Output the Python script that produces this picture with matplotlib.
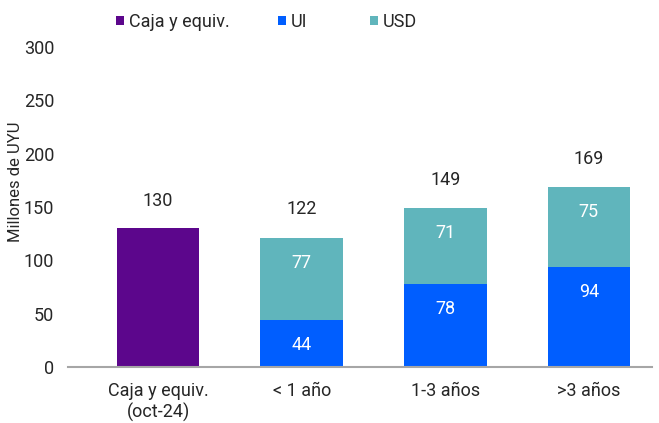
import matplotlib
matplotlib.use("Agg")
import matplotlib.pyplot as plt
import numpy as np

plt.rcParams['font.family'] = ['Roboto', 'DejaVu Sans']

categories = ["Caja y equiv.\n(oct-24)", "< 1 año", "1-3 años", ">3 años"]
caja = [130, 0, 0, 0]
ui = [0, 44, 78, 94]
usd = [0, 77, 71, 75]
totals = [130, 122, 149, 169]
yticks = [0, 50, 100, 150, 200, 250, 300]

c_caja = "#5C068C"
c_ui = "#005EFF"
c_usd = "#60B5BC"
tc = "#262626"

fig = plt.figure(figsize=(6.59, 4.23), dpi=100)
ax = fig.add_axes([68/659, 56/423, (652-68)/659, 320/423])

x = np.arange(len(categories))
w = 0.575
ax.bar(x[:1], caja[:1], w, color=c_caja, label="Caja y equiv.")
ax.bar(x[1:], ui[1:], w, color=c_ui, label="UI")
ax.bar(x[1:], usd[1:], w, bottom=ui[1:], color=c_usd, label="USD")

fs = 13
for i in range(1, 4):
    ax.annotate(str(ui[i]), (x[i], ui[i]), xytext=(0, -18), textcoords="offset points",
                ha="center", va="center", color="white", fontsize=fs)
    ax.annotate(str(usd[i]), (x[i], ui[i] + usd[i]), xytext=(0, -18), textcoords="offset points",
                ha="center", va="center", color="white", fontsize=fs)
for i in range(4):
    ax.annotate(str(totals[i]), (x[i], totals[i]), xytext=(0, 20), textcoords="offset points",
                ha="center", va="center", color=tc, fontsize=fs)

ax.set_ylim(0, 300)
ax.set_xlim(-0.627, 3.44)
ax.set_yticks(yticks)
ax.set_xticks(x)
ax.set_xticklabels(categories, fontsize=fs, color=tc, linespacing=1.2)
ax.tick_params(axis="y", length=0, pad=10, labelsize=fs, labelcolor=tc)
ax.tick_params(axis="x", length=0, pad=11)
for s in ["top", "right", "left"]:
    ax.spines[s].set_visible(False)
ax.spines["bottom"].set_color("#a6a6a6")
ax.spines["bottom"].set_linewidth(1.5)
ax.set_ylabel("Millones de UYU", fontsize=12, color=tc)
ax.yaxis.set_label_coords(-0.077, 0.58)

handles, labels = ax.get_legend_handles_labels()
leg_x = [116, 278, 370]
for h, l, lx in zip(handles, labels, leg_x):
    lg = fig.legend([h], [l], loc="center left", bbox_to_anchor=(lx/659, 1 - 22/423),
                    frameon=False, fontsize=fs, handlelength=0.45, handleheight=0.45,
                    handletextpad=0.25, borderpad=0, borderaxespad=0, labelcolor=tc)

fig.savefig("out.png", dpi=100)
